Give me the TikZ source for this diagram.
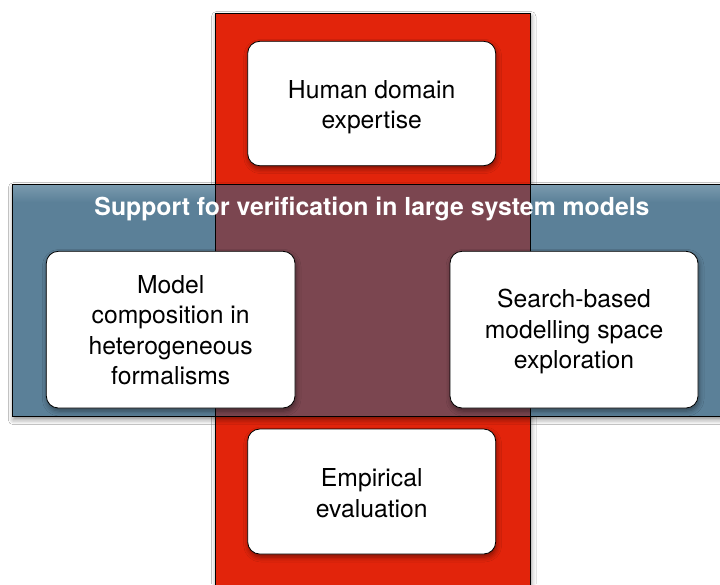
\documentclass[tikz,border=0pt]{standalone}
\usepackage{fontspec}
\setmainfont{TeX Gyre Heros}
\usetikzlibrary{shadows.blur}
\definecolor{barred}{HTML}{E2240B}
\definecolor{bandblue}{HTML}{5B8098}
\definecolor{bandtop}{HTML}{7A9AAE}
\definecolor{overlapc}{HTML}{7B4650}
\begin{document}
\begin{tikzpicture}[x=1pt,y=-1pt,
  softshadow/.style={blur shadow={shadow xshift=1pt, shadow yshift=-3pt, shadow blur radius=5pt, shadow opacity=45}},
  boxshape/.style={draw=black, line width=0.8pt, fill=white, rounded corners=12pt, softshadow},
  boxtext/.style={align=center, inner sep=0pt, font=\fontsize{24.7}{30.5}\selectfont},
  titletext/.style={font=\fontsize{24.8}{30}\selectfont\bfseries, inner sep=0pt, text=white},
  edge/.style={draw=black, line width=0.8pt}
  ]
\clip (0,0) rectangle (720,584);
\fill[white] (0,0) rectangle (720,584);
% red vertical bar
\path[fill=barred, softshadow] (215.5,13.5) rectangle (530,640);
% blue horizontal band
\path[fill=bandblue, softshadow] (12.3,184.7) rectangle (760,416.7);
\shade[top color=bandtop, bottom color=bandblue] (12.3,184.7) rectangle (760,202);
% overlap
\fill[overlapc] (215.5,184.7) rectangle (530,416.7);
% outlines
\draw[edge] (215.5,640) -- (215.5,13.5) -- (530,13.5) -- (530,640);
\draw[edge] (760,184.7) -- (12.3,184.7) -- (12.3,416.7) -- (760,416.7);
% title
\node[titletext] (title) at (372,209) {Support for verification in large system models};
% boxes
\path[boxshape] (247.7,41.3) rectangle (495.7,165.7);
\node[boxtext] (human) at (371.7,107) {Human domain\\expertise};
\path[boxshape] (46.3,251.3) rectangle (295,408);
\node[boxtext] (model) at (170.7,330.3) {Model\\composition in\\heterogeneous\\formalisms};
\path[boxshape] (450,251.3) rectangle (698,408);
\node[boxtext] (search) at (574,331.7) {Search-based\\modelling space\\exploration};
\path[boxshape] (247.7,429) rectangle (495.7,554);
\node[boxtext] (empirical) at (371.7,493) {Empirical\\evaluation};
\end{tikzpicture}
\end{document}
